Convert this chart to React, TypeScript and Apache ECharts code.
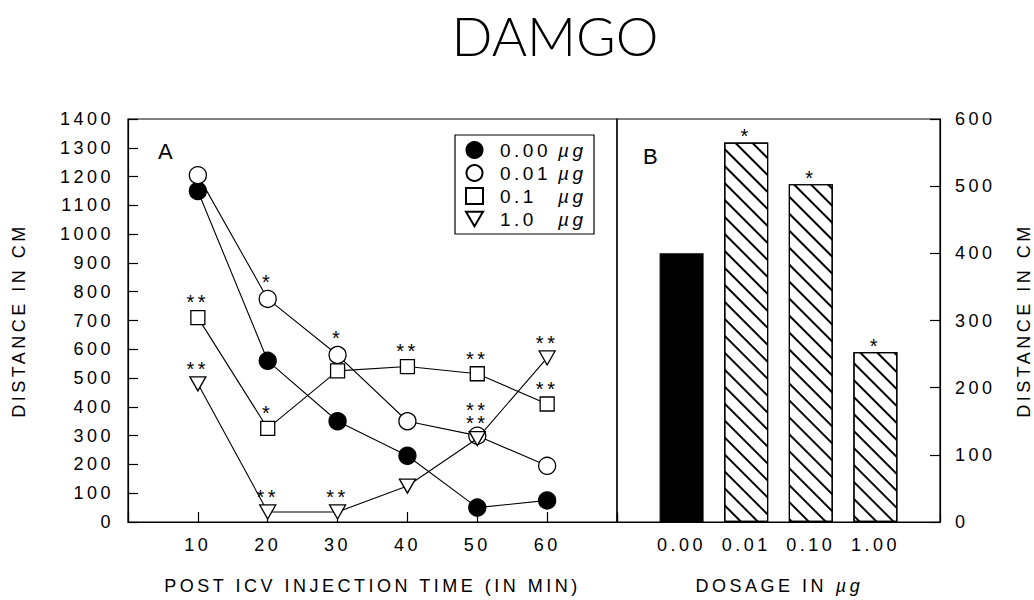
import React, { useEffect, useRef } from 'react';
import * as echarts from 'echarts';

// ---- data ----
const times = [10, 20, 30, 40, 50, 60];
const timeTicks = ['10', '20', '30', '40', '50', '60'];
const seriesNames = ['0.00 µg', '0.01 µg', '0.1 µg', '1.0 µg'];
const dose000 = [1150, 560, 350, 230, 50, 75];
const dose001 = [1205, 775, 580, 350, 300, 195];
const dose01 = [710, 325, 525, 540, 515, 410];
const dose10 = [480, 35, 35, 125, 290, 570];
const sig000 = ['', '', '', '', '', ''];
const sig001 = ['', '*', '*', '', '', ''];
const sig01 = ['**', '*', '', '**', '**', '**'];
const sig10 = ['**', '**', '**', '', '**\n**', '**'];

const dosages = ['0.00', '0.01', '0.10', '1.00'];
const dosageMeans = [400, 565, 503, 253];
const dosageSig = ['', '*', '*', '*'];

const FONT = 'Liberation Sans';
const txt = { fontFamily: FONT, fontSize: 18, color: '#000' };
const TRI = 'path://M0,0L20,0L10,17Z';

function makeLine(name: string, values: number[], sig: string[], symbol: string, symbolSize: any, fill: string, z: number) {
  return {
    type: 'line',
    name,
    xAxisIndex: 0,
    yAxisIndex: 0,
    z,
    symbol,
    symbolSize,
    showAllSymbol: true,
    itemStyle: { color: fill, borderColor: '#000', borderWidth: 1.3 },
    lineStyle: { color: '#000', width: 1.1 },
    label: { position: 'top', distance: 1, fontFamily: FONT, fontSize: 20, color: '#000', lineHeight: 13 },
    emphasis: { disabled: true },
    data: values.map((v, i) => ({
      value: [times[i], v],
      label: { show: !!sig[i], formatter: sig[i] || '' },
    })),
  };
}

export default function App() {
  const ref = useRef<HTMLDivElement>(null);
  useEffect(() => {
    if (!ref.current) return;
    const chart = echarts.init(ref.current, undefined, { renderer: 'svg' });
    const option: any = {
      animation: false,
      backgroundColor: '#fff',
      textStyle: { fontFamily: FONT },
      grid: [
        { left: 128, top: 119, width: 489, height: 404, show: true, borderColor: '#000', borderWidth: 1.2 },
        { left: 617, top: 119, width: 326, height: 404, show: true, borderColor: '#000', borderWidth: 1.2 },
      ],
      xAxis: [
        {
          type: 'value', gridIndex: 0, min: 0, max: 70, interval: 10,
          axisLine: { show: true, lineStyle: { color: '#000', width: 1.2 } },
          axisTick: { show: true, inside: true, length: 10, lineStyle: { color: '#000', width: 1.2 } },
          splitLine: { show: false },
          axisLabel: {
            ...txt, margin: 14,
            formatter: (v: number) => { const i = times.indexOf(v); return i >= 0 ? timeTicks[i] : ''; },
          },
          name: 'POST ICV INJECTION TIME (IN MIN)', nameLocation: 'middle', nameGap: 55, nameTextStyle: txt,
        },
        {
          type: 'category', gridIndex: 1, data: ['', ...dosages, ''], boundaryGap: false,
          axisLine: { show: true, lineStyle: { color: '#000', width: 1.2 } },
          axisTick: { show: true, inside: true, length: 8, interval: 0, lineStyle: { color: '#000', width: 1.2 } },
          splitLine: { show: false },
          axisLabel: { ...txt, margin: 14, interval: 0 },
          name: '{a|DOSAGE IN }{u|µg}', nameLocation: 'middle', nameGap: 55,
          nameTextStyle: {
            ...txt,
            rich: { a: { ...txt, width: 142 }, u: { ...txt, fontStyle: 'italic', width: 26 } },
          },
        },
      ],
      yAxis: [
        {
          type: 'value', gridIndex: 0, min: 0, max: 1400, interval: 100,
          axisLine: { show: true, lineStyle: { color: '#000', width: 1.2 } },
          axisTick: { show: true, inside: true, length: 10, lineStyle: { color: '#000', width: 1.2 } },
          splitLine: { show: false },
          axisLabel: { ...txt, margin: 14, formatter: (v: number) => String(v) },
          name: 'DISTANCE IN CM', nameLocation: 'middle', nameRotate: 90, nameGap: 100, nameTextStyle: txt,
        },
        {
          type: 'value', gridIndex: 1, position: 'right', min: 0, max: 600, interval: 100,
          axisLine: { show: true, lineStyle: { color: '#000', width: 1.2 } },
          axisTick: { show: true, inside: true, length: 10, lineStyle: { color: '#000', width: 1.2 } },
          splitLine: { show: false },
          axisLabel: { ...txt, margin: 15, formatter: (v: number) => String(v) },
          name: 'DISTANCE IN CM', nameLocation: 'middle', nameRotate: 90, nameGap: 75, nameTextStyle: txt,
        },
      ],
      legend: {
        orient: 'vertical', left: 455, top: 135, selectedMode: false,
        borderColor: '#000', borderWidth: 1.2, padding: [5, 6, 5, 10],
        itemGap: 3, itemWidth: 17, itemHeight: 16,
        data: [
          { name: seriesNames[0], icon: 'circle' },
          { name: seriesNames[1], icon: 'circle' },
          { name: seriesNames[2], icon: 'rect' },
          { name: seriesNames[3], icon: TRI },
        ],
        formatter: (name: string) => {
          const [n, u] = name.split(' ');
          return `{n|${n}}{u|${u}}`;
        },
        textStyle: {
          ...txt, fontSize: 19, lineHeight: 20,
          rich: {
            n: { fontFamily: FONT, fontSize: 19, color: '#000', width: 58, padding: [0, 0, 0, 12] },
            u: { fontFamily: FONT, fontSize: 19, color: '#000', fontStyle: 'italic', width: 30 },
          },
        },
      },
      series: [
        makeLine(seriesNames[0], dose000, sig000, 'circle', 17, '#000', 3),
        makeLine(seriesNames[1], dose001, sig001, 'circle', 17, '#fff', 4),
        makeLine(seriesNames[2], dose01, sig01, 'rect', 14, '#fff', 5),
        makeLine(seriesNames[3], dose10, sig10, TRI, [16, 14], '#fff', 6),
        {
          type: 'bar', xAxisIndex: 1, yAxisIndex: 1, barWidth: 44,
          emphasis: { disabled: true },
          label: { show: false, position: 'top', distance: 0, fontFamily: FONT, fontSize: 20, color: '#000', lineHeight: 13 },
          data: [
            '-',
            ...dosageMeans.map((v, i) => ({
              value: v,
              itemStyle: i === 0
                ? { color: '#000', borderColor: '#000', borderWidth: 1.2 }
                : {
                    color: '#fff', borderColor: '#000', borderWidth: 1.2,
                    decal: {
                      symbol: 'rect', color: '#000', backgroundColor: '#fff',
                      dashArrayX: [1, 0], dashArrayY: [1.3, 10], rotation: Math.PI / 4,
                    },
                  },
              label: { show: !!dosageSig[i], formatter: dosageSig[i] || '' },
            })),
            '-',
          ],
        },
      ],
      graphic: [
        {
          type: 'text', x: 555, y: 35,
          style: { text: 'DAMGO', fontFamily: 'Lato', fontWeight: 300, fontSize: 54, fill: '#000', textAlign: 'center', textVerticalAlign: 'middle' },
        },
        {
          type: 'text', x: 158, y: 151,
          style: { text: 'A', fontFamily: FONT, fontSize: 22, fill: '#000', textAlign: 'left', textVerticalAlign: 'middle' },
        },
        {
          type: 'text', x: 643, y: 156,
          style: { text: 'B', fontFamily: FONT, fontSize: 22, fill: '#000', textAlign: 'left', textVerticalAlign: 'middle' },
        },
      ],
    };
    chart.setOption(option);
    return () => chart.dispose();
  }, []);
  return (
    <>
      <style>{`body{margin:0;} #root text{letter-spacing:3.5px;} #root text[style*="54px"]{letter-spacing:0;}`}</style>
      <div ref={ref} style={{ width: 1034, height: 600 }} />
    </>
  );
}
